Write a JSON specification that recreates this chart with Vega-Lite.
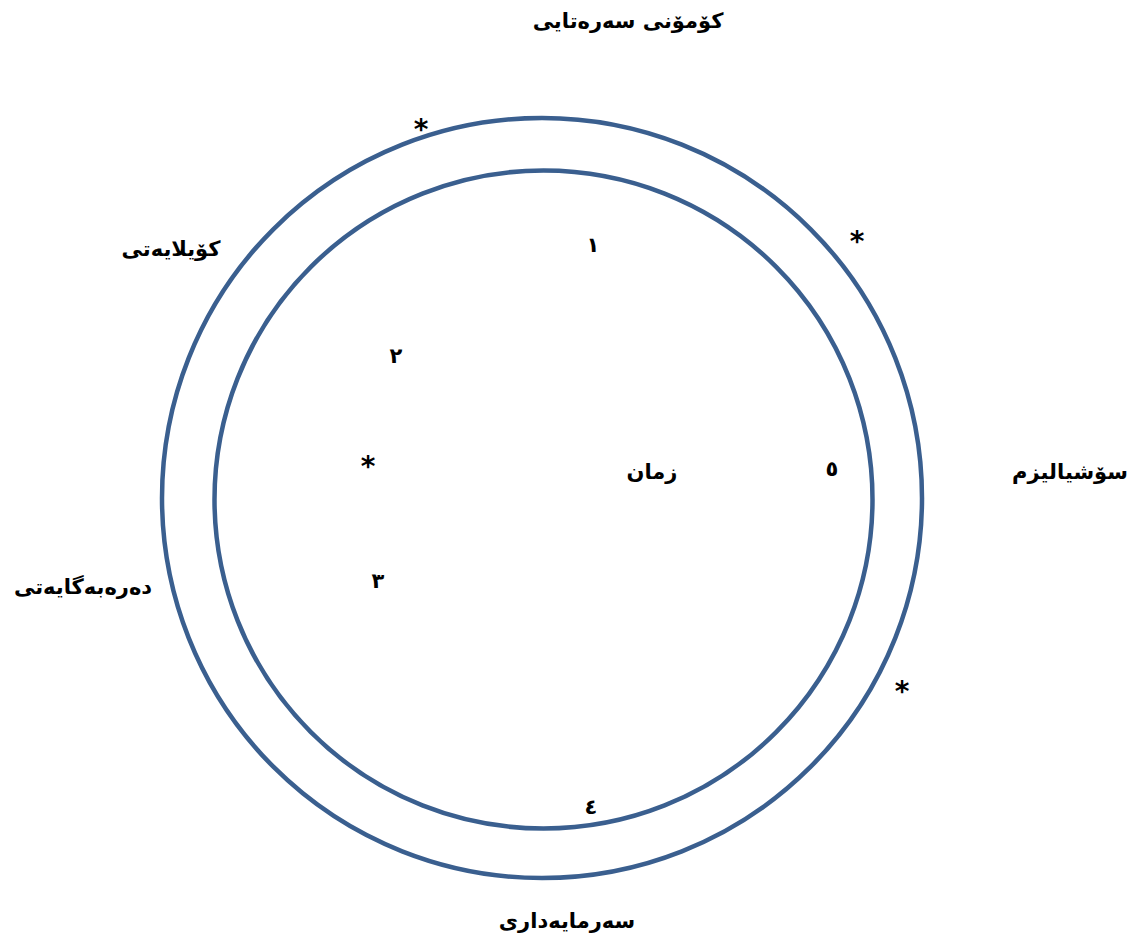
{
  "$schema": "https://vega.github.io/schema/vega-lite/v6.json",
  "autosize": {"type": "fit", "contains": "padding"},
  "width": 1136,
  "height": 936,
  "padding": 0,
  "background": "white",
  "config": {"view": {"stroke": null}},
  "datasets": {
    "rings": [
      {"ring": "outer", "x": 542, "y": 498, "r": 380},
      {"ring": "inner", "x": 543.5, "y": 499.5, "r": 329}
    ],
    "labels": [
      {"text": "کۆمۆنی سەرەتایی", "x": 628, "y": 22},
      {"text": "کۆیلایەتی", "x": 171, "y": 250},
      {"text": "سۆشیالیزم", "x": 1070, "y": 473},
      {"text": "دەرەبەگایەتی", "x": 83, "y": 588},
      {"text": "سەرمایەداری", "x": 567, "y": 922},
      {"text": "زمان", "x": 652, "y": 473},
      {"text": "١", "x": 593, "y": 246},
      {"text": "٢", "x": 396, "y": 357},
      {"text": "٣", "x": 378, "y": 582},
      {"text": "٤", "x": 591, "y": 808},
      {"text": "٥", "x": 832, "y": 470}
    ],
    "stars": [
      {"text": "*", "x": 421, "y": 131},
      {"text": "*", "x": 857, "y": 243},
      {"text": "*", "x": 902, "y": 693},
      {"text": "*", "x": 368, "y": 468}
    ]
  },
  "layer": [
    {
      "data": {"name": "rings"},
      "mark": {"type": "point", "shape": "circle", "filled": false, "stroke": "#3A5F8F", "strokeWidth": 4.5, "opacity": 1},
      "encoding": {
        "x": {"field": "x", "type": "quantitative", "scale": {"domain": [0, 1136], "nice": false, "zero": false}, "axis": null},
        "y": {"field": "y", "type": "quantitative", "scale": {"domain": [0, 936], "nice": false, "zero": false, "reverse": true}, "axis": null},
        "size": {"field": "r", "type": "quantitative", "scale": {"type": "pow", "exponent": 2, "domain": [0, 400], "range": [0, 640000]}, "legend": null}
      }
    },
    {
      "data": {"name": "labels"},
      "mark": {"type": "text", "font": "DejaVu Sans", "fontWeight": "bold", "fontSize": 21, "align": "center", "baseline": "middle", "color": "black"},
      "encoding": {
        "x": {"field": "x", "type": "quantitative", "axis": null},
        "y": {"field": "y", "type": "quantitative", "axis": null},
        "text": {"field": "text"}
      }
    },
    {
      "data": {"name": "stars"},
      "mark": {"type": "text", "font": "DejaVu Sans", "fontWeight": "bold", "fontSize": 28, "align": "center", "baseline": "middle", "color": "black"},
      "encoding": {
        "x": {"field": "x", "type": "quantitative", "axis": null},
        "y": {"field": "y", "type": "quantitative", "axis": null},
        "text": {"field": "text"}
      }
    }
  ]
}
